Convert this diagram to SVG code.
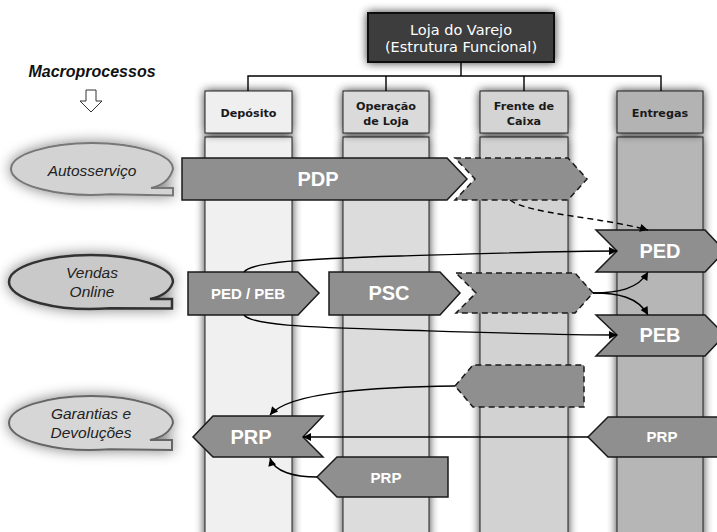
<svg xmlns="http://www.w3.org/2000/svg" width="717" height="532" viewBox="0 0 717 532">
<defs>
<style>
.hdr{font-family:"DejaVu Sans",Verdana,sans-serif;font-weight:bold;font-size:11.2px;fill:#1a1a1a;text-anchor:middle}
.top{font-family:"DejaVu Sans",Verdana,sans-serif;font-size:14.5px;fill:#fff;text-anchor:middle}
.shp{fill:#8f8f8f;stroke:#1a1a1a;stroke-width:1.5;stroke-linejoin:miter}
.dsh{fill:#8f8f8f;stroke:#1a1a1a;stroke-width:1.5;stroke-dasharray:6 4}
.big{font-family:"Liberation Sans",Arial,sans-serif;font-weight:bold;font-size:20px;fill:#fff;text-anchor:middle}
.mid{font-family:"Liberation Sans",Arial,sans-serif;font-weight:bold;font-size:15px;fill:#fff;text-anchor:middle}
.ell{font-family:"Liberation Sans",Arial,sans-serif;font-style:italic;font-size:15.5px;fill:#222;text-anchor:middle}
.con{fill:none;stroke:#000;stroke-width:1.4}
.col{stroke:#222;stroke-width:1}
</style>
<filter id="sh" x="-40%" y="-40%" width="180%" height="180%">
<feGaussianBlur in="SourceAlpha" stdDeviation="5" result="b"/>
<feComponentTransfer in="b" result="c"><feFuncA type="linear" slope="0.8"/></feComponentTransfer>
<feMerge><feMergeNode in="c"/><feMergeNode in="SourceGraphic"/></feMerge>
</filter>
<filter id="sh2" x="-40%" y="-60%" width="180%" height="220%">
<feGaussianBlur in="SourceAlpha" stdDeviation="7" result="b"/>
<feComponentTransfer in="b" result="c"><feFuncA type="linear" slope="0.5"/></feComponentTransfer>
<feMerge><feMergeNode in="c"/><feMergeNode in="SourceGraphic"/></feMerge>
</filter>
<marker id="ah" viewBox="0 0 10 10" refX="10" refY="5" markerWidth="10" markerHeight="8" orient="auto" markerUnits="userSpaceOnUse">
<path d="M0,0 L10,5 L0,10 z" fill="#000"/>
</marker>
</defs>
<rect width="717" height="532" fill="#fff"/>

<!-- columns -->
<g id="col-deposito">
<rect class="col" x="205" y="137" width="87" height="410" fill="#f0f0f0" filter="url(#sh)"/>
<rect class="col" x="205" y="91" width="87" height="42" fill="#efefef" filter="url(#sh)"/>
<text class="hdr" x="248.5" y="117">Depósito</text>
</g>
<g id="col-operacao">
<rect class="col" x="343" y="137" width="86" height="410" fill="#dcdcdc" filter="url(#sh)"/>
<rect class="col" x="343" y="91" width="86" height="42" fill="#dadada" filter="url(#sh)"/>
<text class="hdr" x="386" y="110">Operação</text>
<text class="hdr" x="386" y="125">de Loja</text>
</g>
<g id="col-frente">
<rect class="col" x="480" y="137" width="88" height="410" fill="#d2d2d2" filter="url(#sh)"/>
<rect class="col" x="480" y="91" width="88" height="42" fill="#d4d4d4" filter="url(#sh)"/>
<text class="hdr" x="524" y="110">Frente de</text>
<text class="hdr" x="524" y="125">Caixa</text>
</g>
<g id="col-entregas">
<rect class="col" x="617" y="137" width="86" height="410" fill="#b6b6b6" filter="url(#sh)"/>
<rect class="col" x="617" y="91" width="86" height="42" fill="#b3b3b3" filter="url(#sh)"/>
<text class="hdr" x="660" y="117">Entregas</text>
</g>

<g id="loja">
<rect x="368" y="13" width="186" height="49" fill="#3c3c3c" stroke="#111" stroke-width="2" filter="url(#sh)"/>
<text class="top" x="461" y="35">Loja do Varejo</text>
<text class="top" x="461" y="52">(Estrutura Funcional)</text>
</g>

<g id="macro">
<text x="92" y="77" font-family="Liberation Sans, Arial, sans-serif" font-weight="bold" font-style="italic" font-size="16" fill="#111" text-anchor="middle">Macroprocessos</text>
<path d="M86,90 L96,90 L96,101 L102,101 L91,112 L80,101 L86,101 Z" fill="#fff" stroke="#333" stroke-width="1"/>
</g>

<g id="autosservico">
<path d="M173,169 A81,26 0 0 0 11,169 A81,26 0 0 0 110,194.3 L173,195.5 L173,188 L151,188 Q169,184 173,169 Z" fill="#d3d3d3" stroke="#777" stroke-width="2" filter="url(#sh2)"/>
<text class="ell" x="92" y="176">Autosserviço</text>
</g>
<g id="vendas-online">
<path d="M173,282 A82,27 0 0 0 9,282 A82,27 0 0 0 110,308.3 L172,308.5 L172,299 L150,299 Q169,295 173,282 Z" fill="#c9c9c9" stroke="#333" stroke-width="2.5" filter="url(#sh2)"/>
<text class="ell" x="92" y="278">Vendas</text>
<text class="ell" x="92" y="297">Online</text>
</g>
<g id="garantias">
<path d="M173,423 A82,27 0 0 0 9,423 A82,27 0 0 0 110,449.3 L172,450 L172,440 L150,440 Q169,436 173,423 Z" fill="#d6d6d6" stroke="#666" stroke-width="2" filter="url(#sh2)"/>
<text class="ell" x="91" y="419">Garantias e</text>
<text class="ell" x="91" y="438">Devoluções</text>
</g>

<!-- process shapes -->
<g id="pdp">
<path class="shp" d="M182,158 L447,158 L467,179 L447,200 L182,200 Z"/>
<text class="big" x="318" y="186">PDP</text>
</g>
<g id="pdp-dashed">
<path class="dsh" d="M455,158 L568,158 L587,179 L568,200 L455,200 L475,179 Z"/>
</g>
<g id="ped">
<path class="shp" d="M596,230 L705,230 L725,251 L705,272 L596,272 L617,251 Z"/>
<text class="big" x="660" y="258">PED</text>
</g>
<g id="ped-peb">
<path class="shp" d="M188,272 L298,272 L319,293 L298,315 L188,315 Z"/>
<text class="mid" x="248" y="299">PED / PEB</text>
</g>
<g id="psc">
<path class="shp" d="M329,272 L440,272 L460,293 L440,315 L329,315 Z"/>
<text class="big" x="389" y="300">PSC</text>
</g>
<g id="psc-dashed">
<path class="dsh" d="M456,273 L575,273 L593,293 L575,313 L456,313 L476,293 Z"/>
</g>
<g id="peb">
<path class="shp" d="M596,315 L705,315 L725,335 L705,356 L596,356 L617,335 Z"/>
<text class="big" x="660" y="342">PEB</text>
</g>
<g id="prp-dashed">
<path class="dsh" d="M455,386 L473,365 L584,365 L584,407 L473,407 Z"/>
</g>
<g id="prp-entregas">
<path class="shp" d="M588,437 L608,417 L730,417 L730,457 L608,457 Z"/>
<text class="mid" x="662" y="442">PRP</text>
</g>
<g id="prp-main">
<path class="shp" d="M193,437 L213,416 L323,416 L303,437 L323,457 L213,457 Z"/>
<text class="big" x="251" y="444">PRP</text>
</g>
<g id="prp-small">
<path class="shp" d="M317,477 L337,457 L448,457 L448,497 L337,497 Z"/>
<text class="mid" x="386" y="483">PRP</text>
</g>

<!-- connectors -->
<g id="connectors">
<path class="con" d="M461,62 L461,76 M248,91 L248,76 L661,76 L661,91 M386,76 L386,91 M524,76 L524,91"/>
<path class="con" d="M510,200 C528,214 600,217 648,230" stroke-dasharray="6 4" marker-end="url(#ah)"/>
<path class="con" d="M244,272 C252,262 300,259 400,256 S560,251 617,251" marker-end="url(#ah)"/>
<path class="con" d="M244,315 C252,325 300,327 400,330 S560,335 617,335" marker-end="url(#ah)"/>
<path class="con" d="M593,293 C618,293 638,289 648,272" marker-end="url(#ah)"/>
<path class="con" d="M593,293 C618,293 638,297 648,315" marker-end="url(#ah)"/>
<path class="con" d="M455,386 C380,387 290,391 270,415" marker-end="url(#ah)"/>
<path class="con" d="M588,437 L303,437" marker-end="url(#ah)"/>
<path class="con" d="M317,477 C295,477 274,472 270,458" marker-end="url(#ah)"/>
</g>
</svg>
